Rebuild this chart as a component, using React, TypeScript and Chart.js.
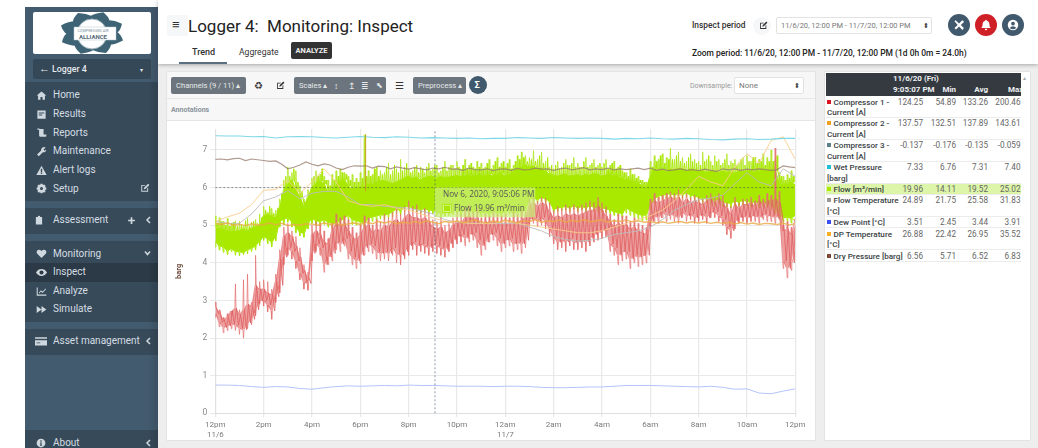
import React, { useEffect, useRef } from "react";
import { Chart, registerables, Tooltip } from "chart.js";
Chart.register(...registerables);

const START_HOUR = 0;
const END_HOUR = 24;
const FINE_STEP = 1 / 6;
const QUARTER_STEP = 1 / 4;
const COARSE_STEP = 1 / 2;
const CURSOR_HOUR = 9.09;
const CURSOR_VALUE = 6;
const TICK_NAMES = ["12pm","2pm","4pm","6pm","8pm","10pm","12am","2am","4am","6am","8am","10am","12pm"];
const TICK_DATES: Record<number, string> = { 0: "11/6", 12: "11/7" };

const flowBottom = [
4.58,4.45,4.42,4.32,4.38,4.30, 4.30,4.27,4.36,4.38,4.46,4.58, 4.70,4.64,4.55,4.70,5.10,5.16, 5.20,5.10,4.95,4.82,4.78,5.05,
5.18,5.12,5.10,5.15,5.08,5.05, 5.05,5.12,5.18,5.28,5.15,5.12, 5.10,5.05,5.20,5.22,5.25,5.28, 5.27,5.30,5.36,5.44,5.38,5.50,
5.50,5.46,5.44,5.42,5.44,5.40, 5.40,5.36,5.30,5.34,5.36,5.38, 5.4,5.34,5.42,5.36,5.38,5.36, 5.32,5.36,5.3,5.38,5.34,5.32,
5.36,5.4,5.32,5.38,5.36,5.42, 5.70,5.72,5.68,5.74,5.70,5.64, 5.42,5.46,5.48,5.5,5.46,5.52, 5.46,5.5,5.46,5.52,5.48,5.46,
5.46,5.44,5.4,5.36,5.34,5.3, 5.46,5.40,5.34,5.30,5.26,5.28, 5.55,5.70,5.78,5.80,5.82,5.84, 5.80,5.84,5.82,5.86,5.80,5.78,
5.74,5.70,5.72,5.68,5.66,5.70, 5.62,5.60,5.58,5.64,5.62,5.66, 5.64,5.60,5.62,5.58,5.60,5.58, 5.55,5.42,5.30,5.20,5.22,5.18,5.25];
const flowDip = [
4.42,4.34,4.28,4.22,4.3,4.2, 4.18,4.22,4.24,4.3,4.34,4.45, 4.6,4.5,4.42,4.58,4.95,5.02, 5.08,4.95,4.8,4.72,4.68,4.9,
5.05,5.0,4.98,5.02,4.95,4.92, 4.95,5.0,5.05,5.15,5.02,5.0, 4.98,4.92,5.08,5.1,5.12,5.16, 5.14,5.18,5.22,5.3,5.26,5.36,
5.4,5.36,5.34,5.32,5.34,5.3, 5.3,5.26,5.2,5.24,5.26,5.28, 5.3,5.24,5.32,5.26,5.28,5.26, 5.22,5.26,5.2,5.28,5.24,5.22,
5.26,5.3,5.22,5.28,5.26,5.32, 5.58,5.6,5.56,5.62,5.58,5.52, 5.32,5.36,5.38,5.4,5.36,5.42, 5.36,5.4,5.36,5.42,5.38,5.36,
5.36,5.34,5.3,5.26,5.24,5.2, 5.32,5.26,5.2,5.16,5.12,5.14, 5.42,5.58,5.66,5.68,5.7,5.72, 5.68,5.72,5.7,5.74,5.68,5.66,
5.62,5.58,5.6,5.56,5.54,5.58, 5.5,5.48,5.46,5.52,5.5,5.54, 5.52,5.48,5.5,5.46,5.48,5.46, 5.43,5.3,5.18,5.08,5.1,5.06,5.12];
const flowTop = [
4.95,4.9,4.88,4.85,4.82,4.84, 4.86,4.9,4.85,4.93,4.96,5.0, 5.25,5.3,5.25,5.2,5.5,5.92, 6.1,6.2,5.95,5.75,5.5,5.75,
6.0,6.12,6.18,6.1,5.85,5.95, 6.08,6.18,6.22,6.05,5.95,5.98, 6.0,6.02,6.1,6.08,6.15,6.18, 6.18,6.14,6.1,6.16,6.2,6.26,
6.3,6.24,6.28,6.2,6.26,6.3, 6.28,6.24,6.3,6.26,6.28,6.3, 6.32,6.28,6.3,6.34,6.3,6.33, 6.34,6.3,6.36,6.3,6.34,6.38,
6.3,6.34,6.42,6.5,6.55,6.6, 6.55,6.58,6.5,6.52,6.45,6.35, 6.32,6.3,6.34,6.36,6.3,6.32, 6.34,6.3,6.36,6.32,6.38,6.34,
6.3,6.34,6.36,6.32,6.3,6.25, 6.2,6.18,6.15,6.12,6.05,6.0, 6.3,6.5,6.45,6.48,6.42,6.5, 6.46,6.52,6.48,6.44,6.5,6.46,
6.42,6.46,6.4,6.44,6.42,6.4, 6.44,6.4,6.42,6.38,6.44,6.42, 6.44,6.46,6.4,6.42,6.46,6.44, 6.48,6.45,6.12,6.08,6.1,6.14,6.08];
const flowPeak = [
5.25,5.2,5.1,5.18,5.05,5.12, 5.1,5.0,5.18,5.08,5.15,5.3, 5.5,5.35,5.45,5.4,5.7,6.2, 6.55,6.4,6.45,6.05,5.7,5.95,
6.25,6.45,6.35,6.3,6.2,6.35, 6.45,6.5,6.4,6.3,6.35,6.25, 6.4,7.4,6.45,6.35,6.55,6.45, 6.4,6.65,6.45,6.5,6.75,6.55,
6.5,6.45,6.6,6.55,6.4,6.65, 6.5,6.6,6.45,6.7,6.55,6.6, 6.7,6.5,6.75,6.6,6.55,6.7, 6.65,6.55,6.75,6.6,6.8,6.65,
6.55,6.75,6.6,6.85,6.95,6.85, 6.8,6.98,6.75,6.95,6.7,6.55, 6.5,6.7,6.55,6.75,6.6,6.8, 6.65,6.55,6.8,6.6,6.75,6.6,
6.55,6.75,6.6,6.7,6.55,6.45, 6.4,6.5,6.35,6.3,6.2,6.15, 6.7,6.85,6.75,6.9,6.8,7.05, 6.75,6.95,6.8,6.7,6.9,6.75,
6.7,6.95,6.75,6.7,6.85,6.75, 6.65,6.9,6.7,6.75,6.65,6.8, 6.85,6.7,6.8,6.75,6.9,6.8, 7.0,6.75,6.4,6.3,6.35,6.45,6.3];
const flowPeakInner = [
5.05,5.1,5.0,4.98,5.08,4.98, 5.02,5.12,4.98,5.1,5.05,5.2, 5.4,5.5,5.32,5.45,5.85,6.3, 6.3,6.5,6.15,5.9,5.6,5.85,
6.3,6.3,6.5,6.2,6.05,6.2, 6.3,6.4,6.35,6.2,6.15,6.15, 6.25,6.3,6.3,6.5,6.3,6.35, 6.55,6.35,6.6,6.4,6.45,6.65,
6.4,6.55,6.4,6.5,6.55,6.45, 6.6,6.4,6.55,6.45,6.6,6.5, 6.55,6.6,6.5,6.65,6.5,6.55, 6.5,6.65,6.5,6.7,6.55,6.7,
6.65,6.5,6.7,6.75,6.8,6.7, 6.75,6.7,6.85,6.65,6.8,6.6, 6.6,6.5,6.65,6.6,6.65,6.55, 6.55,6.7,6.55,6.65,6.55,6.65,
6.65,6.5,6.65,6.5,6.6,6.4, 6.3,6.35,6.25,6.2,6.15,6.1, 6.55,6.7,6.85,6.65,6.75,6.75, 6.85,6.7,6.65,6.8,6.7,6.65,
6.6,6.7,6.85,6.6,6.7,6.6, 6.75,6.6,6.65,6.6,6.75,6.6, 6.7,6.8,6.65,6.7,6.6,6.7, 6.7,6.85,6.3,6.2,6.25,6.3,6.2];
const compressor1High = [
2.96,2.75,2.55,2.65,2.6,3.44, 2.75,3.55,3.7,2.95,4.2,3.5, 3.55,3.5,3.3,3.7,4.35,4.95, 5.05,4.85,4.7,4.4,3.95,3.75,
5.0,5.1,5.05,4.85,4.65,5.05, 5.3,5.2,5.25,5.15,4.95,4.8, 5.0,5.25,5.2,5.0,5.15,5.1, 5.3,5.2,5.35,5.45,5.3,5.5,
5.65,5.5,5.55,5.4,5.45,5.35, 5.15,5.1,5.2,5.0,5.05,5.2, 5.35,5.3,5.45,5.55,5.35,5.45, 5.2,5.3,5.25,5.35,5.3,5.25,
5.3,5.2,5.35,5.3,5.4,5.35, 5.7,5.75,5.65,5.75,5.72,5.6, 5.4,5.5,5.45,5.55,5.5,5.55, 5.5,5.55,5.6,5.65,5.6,5.75,
5.6,5.5,5.3,5.15,5.3,5.25, 5.25,5.1,5.2,5.05,5.0,4.95, 5.7,5.85,5.75,5.8,5.85,5.9, 5.85,5.95,5.8,5.85,5.75,5.8,
5.75,5.7,5.8,5.85,5.75,5.85, 5.8,5.6,5.5,5.75,5.6,5.7, 5.7,5.75,5.65,5.8,5.7,5.85, 5.8,7.05,5.9,5.0,5.1,4.95,5.2];
const compressor1Low = [
2.55,2.3,2.14,2.2,2.25,2.2, 2.1,2.0,2.25,2.35,2.6,2.9, 2.85,2.7,2.5,2.95,3.2,3.95, 4.2,4.1,3.85,3.55,3.3,3.27,
4.05,4.3,4.2,3.75,3.95,4.05, 4.35,4.3,4.45,4.1,3.95,3.85, 3.98,4.2,4.3,4.25,4.1,4.05, 4.1,4.05,4.2,4.0,3.95,4.1,
4.2,4.35,4.2,4.3,4.25,4.2, 4.3,4.25,4.2,4.15,4.3,4.4, 4.5,4.55,4.45,4.55,4.6,4.4, 4.2,4.35,4.55,4.6,4.45,4.3,
4.4,4.45,4.3,4.35,4.25,4.4, 5.0,5.05,4.95,5.0,4.9,4.7, 4.5,4.35,4.4,4.3,4.45,4.35, 4.35,4.4,4.3,4.45,4.55,4.6,
4.65,4.7,4.3,4.2,3.95,4.05, 4.1,3.85,4.0,3.9,3.95,4.0, 4.95,5.1,5.05,5.2,5.1,5.15, 5.1,5.05,5.2,5.1,5.15,5.05,
5.1,5.15,5.05,5.2,5.2,5.1, 5.0,4.75,4.65,4.9,5.05,5.1, 5.05,5.1,5.1,5.05,5.15,5.1, 5.1,5.05,5.15,3.85,3.6,3.8,4.3];
const compressor1HighInner = [
2.82,2.68,2.48,2.56,2.72,2.8, 2.62,2.75,2.9,2.85,3.4,3.3, 3.3,3.2,3.15,3.5,4.1,4.7, 4.8,4.7,4.45,4.15,3.8,3.6,
4.75,4.85,4.75,4.55,4.5,4.85, 5.05,5.0,5.05,4.85,4.7,4.6, 4.75,4.95,5.0,4.8,4.9,4.85, 5.0,4.95,5.1,5.15,5.05,5.2,
5.3,5.2,5.2,5.15,5.2,5.1, 4.95,4.9,4.95,4.8,4.85,5.0, 5.1,5.05,5.2,5.25,5.15,5.2, 5.0,5.1,5.05,5.1,5.05,5.0,
5.05,5.0,5.1,5.05,5.15,5.2, 5.55,5.6,5.5,5.6,5.55,5.35, 5.2,5.25,5.2,5.3,5.25,5.3, 5.25,5.3,5.35,5.4,5.4,5.5,
5.4,5.25,5.1,4.95,5.05,5.0, 5.0,4.9,4.95,4.85,4.8,4.75, 5.55,5.65,5.6,5.65,5.7,5.75, 5.7,5.75,5.6,5.7,5.6,5.65,
5.6,5.55,5.65,5.7,5.6,5.7, 5.6,5.45,5.3,5.55,5.45,5.55, 5.55,5.6,5.5,5.65,5.55,5.65, 5.65,5.7,5.6,4.85,4.9,4.75,5.0];
const compressor1LowInner = [
2.65,2.42,2.28,2.32,2.38,2.34, 2.26,2.22,2.4,2.5,2.75,3.0, 3.0,2.88,2.72,3.1,3.4,4.15, 4.4,4.3,4.05,3.72,3.48,3.45,
4.25,4.5,4.4,3.95,4.15,4.25, 4.55,4.5,4.65,4.3,4.15,4.05, 4.2,4.4,4.5,4.45,4.3,4.25, 4.3,4.25,4.4,4.25,4.2,4.3,
4.45,4.55,4.45,4.5,4.45,4.4, 4.5,4.45,4.4,4.35,4.5,4.6, 4.7,4.75,4.65,4.75,4.8,4.6, 4.45,4.55,4.75,4.8,4.65,4.5,
4.6,4.65,4.5,4.55,4.5,4.6, 5.15,5.2,5.1,5.2,5.1,4.9, 4.7,4.55,4.6,4.55,4.65,4.55, 4.55,4.6,4.55,4.65,4.75,4.8,
4.85,4.9,4.5,4.4,4.2,4.3, 4.3,4.1,4.2,4.15,4.2,4.2, 5.1,5.25,5.2,5.35,5.25,5.3, 5.25,5.2,5.35,5.25,5.3,5.2,
5.25,5.3,5.2,5.35,5.35,5.25, 5.15,4.95,4.85,5.1,5.2,5.25, 5.2,5.25,5.25,5.2,5.3,5.25, 5.25,5.2,5.3,4.05,3.85,4.0,4.5];
const wetPressure = [7.38,7.37,7.37,7.35,7.36,7.32,7.35,7.36,7.35,7.33,7.32,7.34,7.36,7.34,7.33,7.35,7.34,7.32,7.33,7.32,7.31,7.32,7.30,7.31,7.31,7.33,7.32,7.31,7.33,7.32,7.31,7.32,7.31,7.29,7.31,7.30,7.32,7.30,7.29,7.31,7.30,7.28,7.27,7.29,7.30,7.28,7.29,7.31,7.31];
const dryPressure = [
6.75,6.76,6.74,6.77, 6.78,6.72,6.76,6.74, 6.72,6.7,6.71,6.62, 6.5,6.54,6.6,6.68, 6.62,6.58,6.63,6.6, 6.52,6.48,6.54,6.58, 6.57,6.58,6.52,6.57, 6.56,6.5,6.55,6.52,
6.49,6.53,6.5,6.47, 6.52,6.5,6.54,6.49, 6.5,6.46,6.52,6.48, 6.47,6.5,6.45,6.49, 6.5,6.46,6.51,6.47, 6.48,6.52,6.49,6.5, 6.46,6.5,6.52,6.47, 6.5,6.53,6.47,6.5,
6.48,6.52,6.47,6.5, 6.48,6.5,6.52,6.48, 6.52,6.46,6.49,6.45, 6.47,6.5,6.46,6.48, 6.45,6.49,6.46,6.43, 6.5,6.47,6.5,6.46, 6.49,6.47,6.5,6.48, 6.46,6.48,6.58,6.55,6.53];
const dpTemperature = [5.1,5.22,5.32,5.55,5.93,5.95,6.2,5.85,6.15,6.5,6.15,5.65,5.55,5.5,5.55,5.45,5.4,5.3,5.2,5.1,5.1,5.05,5.05,5.05,5.1,5.05,5.0,4.95,4.9,4.85,4.8,4.8,4.85,4.95,5.05,5.15,5.25,5.4,5.65,5.95,6.3,6.15,6.05,6.55,6.9,6.65,7.25,7.35,6.75];
const flowTemperature = [5.1,5.05,5.05,5.3,5.65,5.75,5.92,5.7,5.85,5.9,5.9,5.75,5.55,5.55,5.5,5.48,5.45,5.38,5.3,5.15,5.08,5.05,5.05,5.04,5.05,5.05,4.95,4.85,4.7,4.62,4.58,4.6,4.65,4.75,4.8,4.85,4.95,5.15,5.4,5.55,5.68,5.72,5.8,6.1,6.4,6.15,6.05,6.5,6.3];
const compressor2 = [
5.05,5.02,5.06,5.0, 5.03,4.99,5.04,5.0, 5.02,5.06,5.01,5.05, 4.99,5.02,5.0,5.04, 5.03,5.0,5.06,5.02, 5.05,5.0,5.04,5.06, 5.02,5.08,5.04,5.1, 5.06,5.1,5.04,5.08,
5.05,5.1,5.06,5.12, 5.08,5.04,5.1,5.07, 5.12,5.06,5.1,5.14, 5.09,5.06,5.12,5.08, 5.14,5.1,5.06,5.12, 5.1,5.15,5.08,5.12, 5.1,5.14,5.08,5.13, 5.1,5.15,5.09,5.12,
5.14,5.08,5.12,5.1, 5.14,5.09,5.12,5.08, 5.1,5.06,5.09,5.05, 5.08,5.1,5.06,5.09, 5.06,5.09,5.05,5.08, 5.05,5.08,5.03,5.07, 5.03,5.06,5.02,5.05, 5.04,5.02,5.05,5.01,5.04];
const dewPoint = [0.75,0.75,0.74,0.71,0.69,0.71,0.7,0.66,0.64,0.68,0.71,0.73,0.72,0.73,0.74,0.73,0.75,0.74,0.74,0.73,0.72,0.72,0.72,0.71,0.72,0.72,0.71,0.69,0.68,0.68,0.69,0.7,0.7,0.72,0.74,0.74,0.74,0.73,0.72,0.71,0.7,0.72,0.69,0.64,0.65,0.54,0.52,0.59,0.65];
const spikeHours = [6.22, 6.22];
const spikeValues = [5.9, 7.42];

const TABLE_ROWS = [
  { name: "Compressor 1 -\nCurrent [A]", color: "#d9141e", now: "124.25", min: "54.89", avg: "133.26", max: "200.46" },
  { name: "Compressor 2 -\nCurrent [A]", color: "#f0a020", now: "137.57", min: "132.51", avg: "137.89", max: "143.61" },
  { name: "Compressor 3 -\nCurrent [A]", color: "#5e7f8c", now: "-0.137", min: "-0.176", avg: "-0.135", max: "-0.059" },
  { name: "Wet Pressure\n[barg]", color: "#22bcd8", now: "7.33", min: "6.76", avg: "7.31", max: "7.40" },
  { name: "Flow [m³/min]", color: "#a9e900", now: "19.96", min: "14.11", avg: "19.52", max: "25.02" },
  { name: "Flow Temperature\n[°C]", color: "#999999", now: "24.89", min: "21.75", avg: "25.58", max: "31.83" },
  { name: "Dew Point [°C]", color: "#3b50ee", now: "3.51", min: "2.45", avg: "3.44", max: "3.91" },
  { name: "DP Temperature\n[°C]", color: "#f7b023", now: "26.88", min: "22.42", avg: "26.95", max: "35.52" },
  { name: "Dry Pressure [barg]", color: "#7a4a35", now: "6.56", min: "5.71", avg: "6.52", max: "6.83" },
];
const TABLE_ROW_TOPS = [96, 117.5, 139.5, 161.5, 183.5, 194.5, 216.5, 228, 250];
const TABLE_ROW_HEIGHTS = [21.5, 22, 22, 22, 11, 22, 11.5, 22, 12];
const MENU_TOP = [["Home",95,"home"],["Results",114,"results"],["Reports",132.5,"reports"],["Maintenance",151,"wrench"],["Alert logs",170,"alert"],["Setup",188.5,"gear"]] as const;
const MENU_MON = [["Monitoring",253.5,"heart"],["Inspect",272,"eye"],["Analyze",291,"chart"],["Simulate",309,"ff"]] as const;

const toPoints = (values: number[], step: number) => values.map((y, i) => ({ x: START_HOUR + i * step, y }));
const zigzag = (hi: number[], lo: number[], step: number, shift = 0) =>
  hi.flatMap((h, i) => (i < hi.length - 1 ? [{ x: (i + shift) * step, y: h }, { x: (i + shift + 0.5) * step, y: lo[i] }] : [{ x: i * step, y: h }]));
// narrow grass-like spikes: each tip leaves its base value within a fraction of a step
const spikes = (tips: number[], base: number[], step: number, shift = 0) =>
  tips.flatMap((t, i) =>
    i < tips.length - 1
      ? [{ x: (i + shift - 0.14) * step, y: base[i] }, { x: (i + shift) * step, y: t }, { x: (i + shift + 0.14) * step, y: base[i] }]
      : [{ x: i * step, y: t }]
  );

const FONT = "Roboto, sans-serif";

function T({ x, y, s = 10, c = "#333", w = 400, r, children, f }: any) {
  const st: any = { position: "absolute", top: y - 10, height: 20, lineHeight: "20px", fontSize: s, color: c, fontWeight: w, whiteSpace: "nowrap", fontFamily: f || FONT };
  if (r !== undefined) st.right = 1038 - r; else st.left = x;
  return <div style={st}>{children}</div>;
}
function Box({ x, y, w, h, bg, style }: any) {
  return <div style={{ position: "absolute", left: x, top: y, width: w, height: h, background: bg, ...style }} />;
}
const ICONS: Record<string, string> = {
  home: "M8 2 L1 8 L3 8 L3 14 L6.5 14 L6.5 10 L9.5 10 L9.5 14 L13 14 L13 8 L15 8 Z",
  results: "M2 2 H14 V14 H2 Z M4 5 V6.5 H12 V5 Z M4 8 V9.5 H9 V8 Z",
  reports: "M2 2 H5 V3 H11 V11 H15 V13 Q15 14 14 14 H6 Q4.5 14 4.5 12 V4 H2 Z",
  wrench: "M14 2 L11 5 L12 7 L14.5 5 Q15 8 12.5 9 Q11 9.5 10 9 L4 15 L1.5 12.5 L7.5 6.5 Q7 4 9 2.5 Q11 1 14 2 Z",
  alert: "M8 1 L15.5 14.5 H.5 Z M7 5.5 V10 H9 V5.5 Z M7 11 V13 H9 V11 Z",
  gear: "M6.5 1 H9.5 L10 3 L12 2.2 L14 4.2 L13 6 L15 6.5 V9.5 L13 10 L14 12 L12 14 L10 13 L9.5 15 H6.5 L6 13 L4 14 L2 12 L3 10 L1 9.5 V6.5 L3 6 L2 4.2 L4 2.2 L6 3 Z M8 5.8 A2.2 2.2 0 1 0 8 10.2 A2.2 2.2 0 1 0 8 5.8 Z",
  clip: "M3 3 H6 Q6 1 8 1 Q10 1 10 3 H13 V15 H3 Z",
  heart: "M8 14.5 L1.5 8 Q0 5 2.5 3 Q5.5 1.5 8 4.5 Q10.5 1.5 13.5 3 Q16 5 14.5 8 Z",
  eye: "M8 3 Q13 3 16 8 Q13 13 8 13 Q3 13 0 8 Q3 3 8 3 Z M8 5 A3 3 0 1 0 8 11 A3 3 0 1 0 8 5 Z",
  chart: "M1 2 H2.5 V12.5 H15 V14 H1 Z M4 10 L7 6 L9.5 8 L14 3.5 L14.8 4.5 L9.5 10 L7 8 L5 11 Z",
  ff: "M1 3 L8 8 L1 13 Z M8 3 L15 8 L8 13 Z",
  card: "M0 3 H16 V14 H0 Z M0 5 V7 H16 V5 Z M2 10 V11 H7 V10 Z",
  info: "M8 1 A7 7 0 1 0 8 15 A7 7 0 1 0 8 1 Z M7 3.5 V6 H9 V3.5 Z M6.5 7 V8.5 H7 V11 H6.3 V12.5 H9.7 V11 H9 V7 Z",
  edit: "M2 3 H9 L7.5 4.5 H3.5 V12.5 H11.5 V8.5 L13 7 V14 H2 Z M13 1 L15 3 L8.5 9.5 L6 10 L6.5 7.5 Z",
  plus: "M6.5 2 H9.5 V6.5 H14 V9.5 H9.5 V14 H6.5 V9.5 H2 V6.5 H6.5 Z",
  user: "M8 1 A7 7 0 1 0 8 15 A7 7 0 1 0 8 1 Z M8 3.5 A2.5 2.5 0 1 1 8 8.5 A2.5 2.5 0 1 1 8 3.5 Z M3.8 12 Q5 9.5 8 9.5 Q11 9.5 12.2 12 Q10.5 13.7 8 13.7 Q5.5 13.7 3.8 12 Z",
  bell: "M8 1 Q9 1 9 2.2 Q12.5 3 12.5 7 Q12.5 10.5 14.5 12 H1.5 Q3.5 10.5 3.5 7 Q3.5 3 7 2.2 Q7 1 8 1 Z M6.3 13 H9.7 Q9.5 15 8 15 Q6.5 15 6.3 13 Z",
  tools: "M2 3 L3.5 1.5 L8 6 L12 2 Q14.5 1.5 14.5 4 L10.5 8 L14.5 12 L12.5 14.5 L8 10 L4 14 L2 12 L6.3 8 Z",
};
function Icon({ n, x, y, s = 11, c = "#cfd8de" }: any) {
  return (
    <svg width={s} height={s} viewBox="0 0 16 16" style={{ position: "absolute", left: x - s / 2, top: y - s / 2 }}>
      <path d={ICONS[n]} fill={c} fillRule="evenodd" />
    </svg>
  );
}
const Chevron = ({ x, y, dir = "left" }: any) => (
  <svg width={7} height={8} viewBox="0 0 7 8" style={{ position: "absolute", left: x - 3.5, top: y - 4 }}>
    <path d={dir === "left" ? "M5 1 L2 4 L5 7" : "M1 2.5 L3.5 5.5 L6 2.5"} stroke="#cfd8de" strokeWidth={1.5} fill="none" />
  </svg>
);

function Logo() {
  const leaves = [0, 45, 90, 135, 180, 225, 270, 315];
  return (
    <svg width={118} height={42} viewBox="0 0 118 42" style={{ position: "absolute", left: 33, top: 12 }}>
      <rect width={118} height={42} rx={2} fill="#fff" />
      {leaves.map((a) => (
        <g key={a} transform={`translate(59 21) scale(1.5 1) rotate(${a + 20}) translate(0 -14)`}>
          <path d="M0 -8 Q10 -2 7 6 Q0 10 -7 6 Q-10 -2 0 -8 Z" fill="#3d6375" />
        </g>
      ))}
      <circle cx={59} cy={22} r={15} fill="#fff" stroke="#9fb3bd" strokeWidth={1} />
      <rect x={41} y={15} width={42} height={13} fill="#fff" stroke="#b6c5cc" strokeWidth={0.5} />
      <text x={60} y={20} fontSize={3.8} textAnchor="middle" fill="#7d929d" fontFamily={FONT}>COMPRESSED AIR</text>
      <text x={60} y={26.5} fontSize={6} fontWeight={700} textAnchor="middle" fill="#546a76" fontFamily={FONT}>ALLIANCE</text>
    </svg>
  );
}

function GreyBtn({ x, w, label }: any) {
  return (
    <div style={{ position: "absolute", left: x, top: 77, width: w, height: 17, background: "#6c757d", borderRadius: 2, color: "#e6e9eb", fontSize: 7.6, fontFamily: FONT, lineHeight: "17px", paddingLeft: 5, boxSizing: "border-box", whiteSpace: "nowrap" }}>{label}</div>
  );
}

export default function App() {
  const ref = useRef<HTMLCanvasElement>(null);
  useEffect(() => {
    (Tooltip.positioners as any).crosshair = function (this: any) {
      const c = this.chart;
      return { x: c.scales.x.getPixelForValue(CURSOR_HOUR), y: c.scales.y.getPixelForValue(CURSOR_VALUE) };
    };
    const thin = { pointRadius: 0, tension: 0, fill: false };
    const cursorH = [{ x: START_HOUR, y: CURSOR_VALUE }, { x: CURSOR_HOUR, y: CURSOR_VALUE }, { x: END_HOUR, y: CURSOR_VALUE }];
    const cursorV = [{ x: CURSOR_HOUR, y: 0 }, { x: CURSOR_HOUR, y: 7.55 }];
    const RED = "rgba(224,96,96,.8)";
    const RED_TIP = "rgba(230,115,115,.75)";
    const GREEN = "#a9e900";
    const chart = new Chart(ref.current as any, {
      type: "line",
      data: {
        datasets: [
          { label: "cursorH", data: cursorH, borderColor: "rgba(70,70,70,.8)", borderWidth: 0.7, borderDash: [2, 2], ...thin },
          { label: "cursorV", data: cursorV, borderColor: "rgba(70,90,120,.8)", borderWidth: 0.8, borderDash: [2, 2], ...thin },
          { label: "Spike", data: spikeHours.map((x, i) => ({ x, y: spikeValues[i] })), borderColor: "#c9a020", borderWidth: 1, ...thin },
          { label: "Compressor 2", data: toPoints(compressor2, QUARTER_STEP), borderColor: "rgba(235,170,70,.8)", borderWidth: 1.4, ...thin },
          { label: "Dry Pressure", data: toPoints(dryPressure, QUARTER_STEP), borderColor: "rgba(150,120,105,.75)", borderWidth: 1.2, ...thin },
          { label: "Wet Pressure", data: toPoints(wetPressure, COARSE_STEP), borderColor: "#7fd8e6", borderWidth: 1.1, ...thin },
          { label: "Dew Point", data: toPoints(dewPoint, COARSE_STEP), borderColor: "#b3c4fb", borderWidth: 1, ...thin },
          { label: "DP Temperature", data: toPoints(dpTemperature, COARSE_STEP), borderColor: "rgba(250,205,140,.9)", borderWidth: 1, ...thin },
          { label: "Flow Temperature", data: toPoints(flowTemperature, COARSE_STEP), borderColor: "rgba(190,190,190,.9)", borderWidth: 1, ...thin },
          { label: "Compressor 1 inner", data: zigzag(compressor1HighInner, compressor1LowInner, FINE_STEP, 0.25), borderColor: RED, borderWidth: 1, ...thin },
          { label: "Compressor 1 high", data: spikes(compressor1High, compressor1HighInner, FINE_STEP), borderColor: RED_TIP, borderWidth: 1, ...thin },
          { label: "Compressor 1 low", data: spikes(compressor1Low, compressor1LowInner, FINE_STEP), borderColor: RED_TIP, borderWidth: 1, ...thin },
          { label: "Compressor 1 body", data: toPoints(compressor1HighInner, FINE_STEP), borderColor: "rgba(0,0,0,0)", borderWidth: 0, pointRadius: 0, tension: 0, fill: "+1", backgroundColor: "rgba(230,120,120,.72)" },
          { label: "Compressor 1 body low", data: toPoints(compressor1LowInner, FINE_STEP), borderColor: "rgba(0,0,0,0)", borderWidth: 0, ...thin },
          { label: "Flow", data: toPoints(flowTop, FINE_STEP), borderColor: GREEN, borderWidth: 0.5, pointRadius: 0, tension: 0, fill: "+1", backgroundColor: GREEN },
          { label: "Flow low", data: toPoints(flowBottom, FINE_STEP), borderColor: GREEN, borderWidth: 0.5, ...thin },
          { label: "Flow dips", data: spikes(flowDip, flowBottom, FINE_STEP), borderColor: GREEN, borderWidth: 1, ...thin },
          { label: "Flow peaks inner", data: spikes(flowPeakInner, flowTop, FINE_STEP, 0.5), borderColor: GREEN, borderWidth: 1, ...thin },
          { label: "Flow peaks", data: spikes(flowPeak, flowTop, FINE_STEP), borderColor: "#b6e832", borderWidth: 1, ...thin },
        ],
      },
      options: {
        animation: false,
        responsive: false,
        events: [],
        layout: { padding: { top: 9.3, right: 19.7 } },
        scales: {
          x: {
            type: "linear", min: START_HOUR, max: END_HOUR,
            afterFit: (s: any) => { s.height = 26.7; },
            grid: { color: "#e9e9e9", lineWidth: 1.3, drawTicks: true, tickLength: 4 },
            border: { color: "#dedede" },
            ticks: {
              stepSize: 2, maxRotation: 0, autoSkip: false, padding: 3,
              color: "#7a7a7a", font: { family: FONT, size: 8 },
              callback: (v: any) => {
                const i = v / 2;
                return TICK_DATES[v] ? [TICK_NAMES[i], TICK_DATES[v]] : TICK_NAMES[i];
              },
            },
          },
          y: {
            min: 0, max: 7.55,
            afterFit: (s: any) => { s.width = 48.3; },
            grid: { color: "#e9e9e9", lineWidth: 1.1, tickLength: 5 },
            border: { color: "#e0e0e0" },
            title: { display: true, text: "barg", color: "#6a4a3c", font: { family: FONT, size: 7.5, weight: "bold" as any }, padding: { top: 8, bottom: 0 } },
            ticks: { stepSize: 1, includeBounds: false, color: "#8a8a8a", font: { family: FONT, size: 8.5 }, padding: 3 },
          },
        },
        plugins: {
          legend: { display: false },
          tooltip: {
            enabled: true,
            position: "crosshair" as any,
            xAlign: "left", yAlign: "top", caretSize: 0, caretPadding: 0, cornerRadius: 0,
            backgroundColor: "rgba(203,238,120,.72)",
            titleColor: "#555", bodyColor: "#555",
            titleFont: { family: "Open Sans", size: 8.2, weight: "normal" as any },
            bodyFont: { family: "Open Sans", size: 8.2 },
            padding: { left: 8, right: 1, top: 2, bottom: 4 }, titleMarginBottom: 4,
            boxWidth: 8, boxHeight: 8, boxPadding: 1,
            callbacks: {
              title: () => "Nov 6, 2020, 9:05:06 PM",
              label: () => "Flow 19.96 m³/min",
              labelColor: () => ({ backgroundColor: GREEN, borderColor: GREEN, borderWidth: 0 }),
            },
          },
        },
      },
    } as any);
    chart.tooltip!.setActiveElements([{ datasetIndex: 0, index: 1 }], { x: 0, y: 0 });
    chart.render();
    return () => chart.destroy();
  }, []);

  return (
    <div style={{ position: "relative", width: 1038, height: 448, overflow: "hidden", background: "#fff", fontFamily: FONT }}>
      <style>{`html,body{margin:0;padding:0;background:#fff}`}</style>
      <Box x={158} y={64} w={880} h={384} bg="#eeeeee" />
      <Box x={158} y={0} w={880} h={64} bg="#fff" style={{ boxShadow: "0 1px 4px rgba(0,0,0,.3)" }} />
      <Box x={25} y={7} w={133} h={441} bg="#435b6f" />
      <Box x={25} y={82} w={133} h={119} bg="#374a5a" />
      <Box x={25} y={208} w={133} h={26} bg="#374a5a" />
      <Box x={25} y={241} w={133} h={81} bg="#374a5a" />
      <Box x={25} y={263} w={133} h={19} bg="#2b3a46" />
      <Box x={25} y={329} w={133} h={26} bg="#374a5a" />
      <Box x={25} y={430} w={133} h={18} bg="#374a5a" />
      <Box x={148} y={7} w={10} h={441} bg="linear-gradient(90deg,rgba(0,0,0,0),rgba(0,0,0,.13))" />
      <Logo />
      <Box x={33} y={59} w={118} h={20} bg="#344858" style={{ borderRadius: 2 }} />
      <T x={39} y={68.5} s={11} c="#e4e9ec">←</T>
      <T x={52} y={69} s={8.8} w={500} c="#e4e9ec">Logger 4</T>
      <T x={140} y={70} s={6} c="#e4e9ec">▾</T>
      {MENU_TOP.map(([t, y, ic]) => (
        <React.Fragment key={t}>
          <Icon n={ic} x={41} y={y} />
          <T x={53} y={y} s={10} c="#d5dde2">{t}</T>
        </React.Fragment>
      ))}
      <Icon n="edit" x={145} y={188} s={10} />
      <Icon n="clip" x={39} y={220} s={10} />
      <T x={53} y={220} s={10} c="#d5dde2">Assessment</T>
      <Icon n="plus" x={131} y={220} s={9} />
      <Chevron x={148} y={220} />
      {MENU_MON.map(([t, y, ic]) => (
        <React.Fragment key={t}>
          <Icon n={ic} x={41} y={y} />
          <T x={53} y={y} s={10} c="#d5dde2">{t}</T>
        </React.Fragment>
      ))}
      <Chevron x={147} y={253} dir="down" />
      <Icon n="card" x={41} y={341} s={12} />
      <T x={53} y={341} s={10} c="#d5dde2">Asset management</T>
      <Chevron x={148} y={341} />
      <Icon n="info" x={41} y={443} s={10} />
      <T x={53} y={443} s={10} c="#d5dde2">About</T>
      <Chevron x={148} y={443} />

      <Box x={167} y={15} w={21} h={21} bg="#f6f7f8" />
      <T x={172} y={25} s={13} c="#333">≡</T>
      <T x={188} y={26} s={17} w={400} c="#222">Logger 4:&nbsp; Monitoring: Inspect</T>
      <T x={192} y={52} s={9} c="#333" w={500}>Trend</T>
      <Box x={179} y={62} w={48} h={1.5} bg="#5a7080" />
      <T x={239} y={52} s={8.6} c="#333" w={400}>Aggregate</T>
      <div style={{ position: "absolute", left: 291, top: 42, width: 41, height: 17, background: "#333", borderRadius: 2, color: "#eee", fontSize: 7.5, fontWeight: 700, textAlign: "center", lineHeight: "17px" }}>ANALYZE</div>
      <T x={692} y={25} s={8.4} w={500} c="#333">Inspect period</T>
      <Box x={753} y={17} w={18} h={18} bg="#f6f7f8" style={{ borderRadius: 9 }} />
      <Icon n="edit" x={763} y={25} s={9} c="#333" />
      <div style={{ position: "absolute", left: 776, top: 17, width: 156, height: 17, border: "1px solid #e2e2e2", boxSizing: "border-box", borderRadius: 2 }} />
      <T x={781} y={25.5} s={7.45} c="#777">11/6/20, 12:00 PM - 11/7/20, 12:00 PM</T>
      <T x={923} y={25.5} s={7} c="#444">⬍</T>
      <Box x={948} y={14} w={22} h={22} bg="#41596d" style={{ borderRadius: 11 }} />
      <Icon n="tools" x={959} y={25} s={12} c="#fff" />
      <Box x={975} y={14} w={22} h={22} bg="#cf2027" style={{ borderRadius: 11 }} />
      <Icon n="bell" x={986} y={25} s={12} c="#fff" />
      <Box x={1002} y={14} w={22} h={22} bg="#41596d" style={{ borderRadius: 11 }} />
      <Icon n="user" x={1013} y={25} s={12} c="#fff" />
      <T x={692} y={53} s={8.45} w={500} c="#222">Zoom period: 11/6/20, 12:00 PM - 11/7/20, 12:00 PM (1d 0h 0m = 24.0h)</T>

      <Box x={167} y={72} w={648} h={368} bg="#fff" style={{ boxShadow: "0 0 1px rgba(0,0,0,.25)" }} />
      <Box x={167} y={72} w={648} h={48} bg="#f7f7f7" />
      <Box x={167} y={98} w={648} h={1} bg="#e6e6e6" />
      <Box x={167} y={120} w={648} h={1} bg="#e6e6e6" />
      <GreyBtn x={171} w={75} label="Channels (9 / 11) ▴" />
      <T x={254} y={85.5} s={10} c="#333">♻</T>
      <Icon n="edit" x={280} y={85.5} s={9} c="#333" />
      <GreyBtn x={294} w={92} label="Scales ▴" />
      <T x={334} y={85.5} s={8.5} c="#e6e9eb">↕</T>
      <T x={348} y={85.5} s={8.5} c="#e6e9eb">↥</T>
      <T x={361} y={85.5} s={8.5} c="#e6e9eb">≣</T>
      <T x={376} y={85.5} s={8} c="#e6e9eb">⬉</T>
      <T x={395} y={85.5} s={10} c="#333">☰</T>
      <GreyBtn x={413} w={53} label="Preprocess ▴" />
      <Box x={469} y={76} w={18} h={18} bg="#41596d" style={{ borderRadius: 9 }} />
      <T x={474.5} y={85} s={9.5} w={700} c="#fff">Σ</T>
      <T x={690} y={86} s={7} c="#999">Downsample:</T>
      <div style={{ position: "absolute", left: 734, top: 77, width: 70, height: 17, border: "1px solid #e2e2e2", background: "#fff", boxSizing: "border-box", borderRadius: 2 }} />
      <T x={739} y={85.5} s={8} c="#777">None</T>
      <T x={794} y={85.5} s={7} c="#444">⬍</T>
      <T x={171} y={109.5} s={7} w={700} c="#8a949c">Annotations</T>
      <canvas ref={ref} width={648} height={320} style={{ position: "absolute", left: 167, top: 120, width: 648, height: 320 }} />

      <Box x={825} y={72} w={205} h={368} bg="#fff" style={{ boxShadow: "0 0 1px rgba(0,0,0,.25)" }} />
      <Box x={826} y={73} w={195} h={23} bg="#343a40" />
      <T x={893} y={79} s={8} w={700} c="#eef0f2">11/6/20 (Fri)</T>
      <T x={893} y={89.5} s={8} w={700} c="#eef0f2">9:05:07 PM</T>
      <T r={956} y={89.5} s={8} w={700} c="#eef0f2">Min</T>
      <T r={988} y={89.5} s={8} w={700} c="#eef0f2">Avg</T>
      <T x={1008} y={89.5} s={8} w={700} c="#eef0f2"><span style={{ display: "inline-block", width: 13, overflow: "hidden" }}>Max</span></T>
      <T x={1023} y={78} s={6} c="#aaa">▴</T>
      {TABLE_ROWS.map((row, i) => (
        <React.Fragment key={row.name}>
          <Box x={826} y={TABLE_ROW_TOPS[i]} w={195} h={TABLE_ROW_HEIGHTS[i]} bg={i === 4 ? "#dcf5a8" : "#fff"} style={{ borderBottom: "1px solid #ececec", boxSizing: "border-box" }} />
          <div style={{ position: "absolute", left: 827, top: TABLE_ROW_TOPS[i] + 0.5, width: 80, fontSize: 8.1, lineHeight: "10.6px", fontWeight: 500, color: "#3a3f44", fontFamily: FONT, whiteSpace: "pre-line" }}>
            <span style={{ display: "inline-block", width: 4, height: 4, background: row.color, marginRight: 2.5, verticalAlign: 1 }} />
            {row.name}
          </div>
          <T r={923} y={TABLE_ROW_TOPS[i] + 5.5} s={8.2} c="#666">{row.now}</T>
          <T r={956} y={TABLE_ROW_TOPS[i] + 5.5} s={8.2} c="#666">{row.min}</T>
          <T r={988} y={TABLE_ROW_TOPS[i] + 5.5} s={8.2} c="#666">{row.avg}</T>
          <T r={1020.5} y={TABLE_ROW_TOPS[i] + 5.5} s={8.2} c="#666">{row.max}</T>
        </React.Fragment>
      ))}
    </div>
  );
}
